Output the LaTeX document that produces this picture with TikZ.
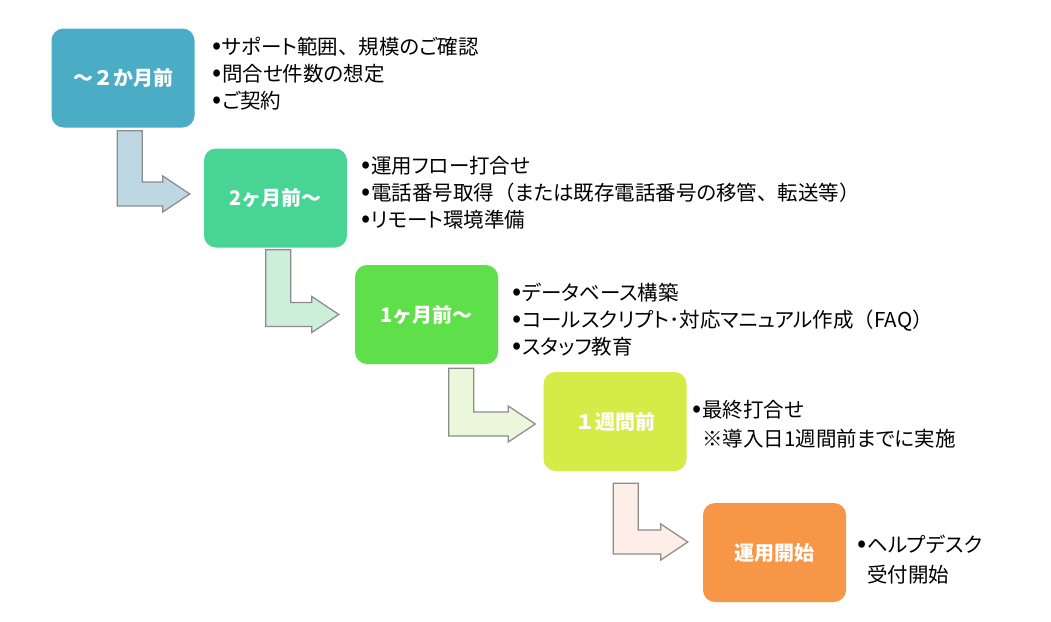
\documentclass[tikz,border=0pt]{standalone}
\usepackage{fontspec}
\setmainfont{Noto Sans CJK JP}
\newfontfamily\listfont[RawFeature=+palt]{Noto Sans CJK JP}
\newfontfamily\fullfont{Noto Sans CJK JP}
\usetikzlibrary{calc}
\definecolor{phaseA}{HTML}{4BACC6}
\definecolor{phaseB}{HTML}{48D495}
\definecolor{phaseC}{HTML}{5FE04A}
\definecolor{phaseD}{HTML}{D5EB48}
\definecolor{phaseE}{HTML}{F79646}
\definecolor{bendA}{HTML}{BDD8E2}
\definecolor{bendB}{HTML}{CCEFD9}
\definecolor{bendC}{HTML}{EBF7DA}
\definecolor{bendD}{HTML}{FDEEE7}
\definecolor{bendline}{HTML}{8C8C8C}
\tikzset{
  phase/.style={rounded corners=12pt,minimum width=143pt,minimum height=99pt,
    inner sep=0pt,text=white,font=\fontsize{20}{24}\selectfont\bfseries},
  todo/.style={anchor=west,align=left,inner sep=0pt,
    font=\listfont\fontsize{20.5}{27}\selectfont},
  stepbend/.style={draw=bendline,line width=1.2pt,line join=miter}
}
\newcommand{\bul}{\makebox[10pt][l]{\fontsize{27}{0}\selectfont•}}
\newcommand{\zw}[1]{{\fullfont #1}}
\begin{document}
\begin{tikzpicture}[x=1pt,y=-1pt]
  \useasboundingbox (0,0) rectangle (1051,621);

  % phases
  \node[phase,fill=phaseA] (s1) at (123,78) {～２か月前};
  \node[phase,fill=phaseB] (s2) at (275.5,198) {2ヶ月前～};
  \node[phase,fill=phaseC] (s3) at (426.5,314.5) {1ヶ月前～};
  \node[phase,fill=phaseD] (s4) at (615,421.5) {１週間前};
  \node[phase,fill=phaseE] (s5) at (774.5,552.5) {運用開始};

  % tasks
  \node[todo] (l1) at (212,74) {\bul サポート範囲\zw{、}規模のご確認\\\bul 問合せ件数の想定\\\bul ご契約};
  \node[todo] (l2) at (361,193) {\bul 運用フロー打合せ\\\bul 電話番号取得\zw{（}または既存電話番号の移管\zw{、}転送等\zw{）}\\\bul リモート環境準備};
  \node[todo] (l3) at (512,320) {\bul データベース構築\\\bul コールスクリプト･対応マニュアル作成\zw{（}FAQ\zw{）}\\\bul スタッフ教育};
  \node[todo,font=\listfont\fontsize{20.5}{29}\selectfont] (l4) at (692,424.5) {\bul 最終打合せ\\\phantom{\bul}※導入日1週間前までに実施};
  \node[todo,font=\listfont\fontsize{20.5}{30}\selectfont] (l5) at (857,560) {\bul ヘルプデスク\\\phantom{\bul}受付開始};

  % bent arrows
  \coordinate (a1s) at ($(s1.south west)+(66,3)$);
  \coordinate (a1t) at ($(s2.west)+(-14,-4)$);
  \coordinate (a2s) at ($(s2.south west)+(62,2)$);
  \coordinate (a2t) at ($(s3.west)+(-16,0)$);
  \coordinate (a3s) at ($(s3.south west)+(94,4)$);
  \coordinate (a3t) at ($(s4.west)+(-8,2.5)$);
  \coordinate (a4s) at ($(s4.south west)+(70,12)$);
  \coordinate (a4t) at ($(s5.west)+(-15,-10.5)$);
  \draw[stepbend,fill=bendA] (a1s) -- ++(25,0) |- ($(a1t)+(-27,-12)$) -- ++(0,-6)
    -- (a1t) -- ++(-27,18) -- ++(0,-6) -| (a1s) -- cycle;
  \draw[stepbend,fill=bendB] (a2s) -- ++(25,0) |- ($(a2t)+(-27,-12)$) -- ++(0,-6)
    -- (a2t) -- ++(-27,18) -- ++(0,-6) -| (a2s) -- cycle;
  \draw[stepbend,fill=bendC] (a3s) -- ++(25,0) |- ($(a3t)+(-27,-12)$) -- ++(0,-6)
    -- (a3t) -- ++(-27,18) -- ++(0,-6) -| (a3s) -- cycle;
  \draw[stepbend,fill=bendD] (a4s) -- ++(25,0) |- ($(a4t)+(-27,-12)$) -- ++(0,-6)
    -- (a4t) -- ++(-27,18) -- ++(0,-6) -| (a4s) -- cycle;
\end{tikzpicture}
\end{document}
